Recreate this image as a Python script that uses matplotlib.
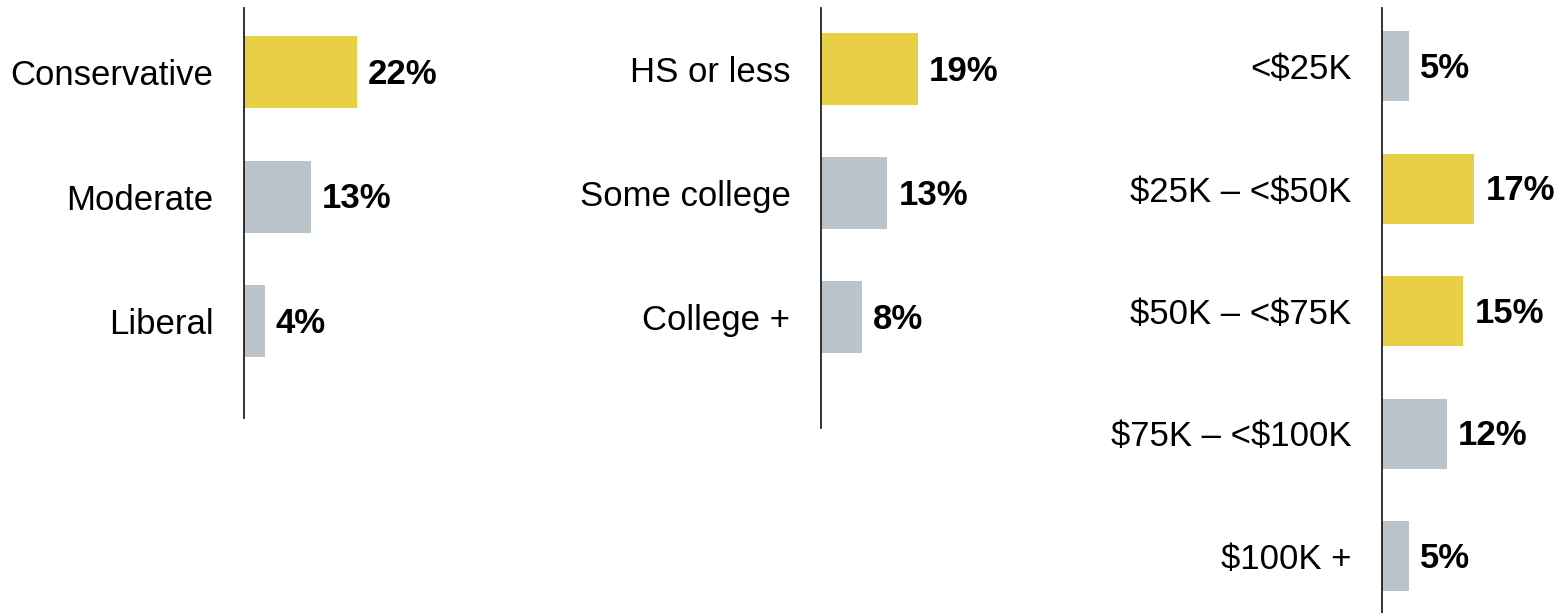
import matplotlib
matplotlib.use("Agg")
import matplotlib.pyplot as plt

plt.rcParams["font.family"] = ["Liberation Sans", "DejaVu Sans"]
plt.rcParams["text.parse_math"] = False

YELLOW = "#E8CF46"
GRAY = "#BAC4CA"

# ideology
ideo_labels = ["Conservative", "Moderate", "Liberal"]
ideo_values = [22, 13, 4]
ideo_hi = [True, False, False]

# education
edu_labels = ["HS or less", "Some college", "College +"]
edu_values = [19, 13, 8]
edu_hi = [True, False, False]

# income
inc_labels = ["<$25K", "$25K – <$50K", "$50K – <$75K", "$75K – <$100K", "$100K +"]
inc_values = [5, 17, 15, 12, 5]
inc_hi = [False, True, True, False, False]

W, H = 1566, 613
fig = plt.figure(figsize=(W / 100, H / 100), dpi=100)


def panel(x0, top, bottom, first_c, step, bar_px, px_per_pct, labels, values, hi):
    # axes placed in pixel units; y in category units, x in percent
    n = len(labels)
    xmax = 30
    ax = fig.add_axes([x0 / W, 1 - bottom / H, xmax * px_per_pct / W, (bottom - top) / H])
    y0 = -(first_c - top) / step
    y1 = (bottom - first_c) / step
    ax.set_ylim(y1, y0)
    ax.set_xlim(0, xmax)
    ypos = list(range(n))
    ax.barh(ypos, values, height=bar_px / step,
            color=[YELLOW if h else GRAY for h in hi], zorder=1)
    for s in ("top", "right", "bottom"):
        ax.spines[s].set_visible(False)
    ax.spines["left"].set_color("#222222")
    ax.spines["left"].set_linewidth(1.3)
    ax.spines["left"].set_zorder(3)
    ax.set_xticks([])
    ax.set_yticks(ypos)
    ax.set_yticklabels(labels, fontsize=25)
    ax.tick_params(axis="y", length=0, pad=22)
    for y, v in zip(ypos, values):
        ax.text(v + 11 / px_per_pct, y + 0.02, f"{v}%", ha="left", va="center",
                fontsize=25, fontweight="bold")
    return ax


panel(244, 8, 418, 72, 124.5, 72, 5.14, ideo_labels, ideo_values, ideo_hi)
panel(821, 8, 428, 69, 124, 72, 5.10, edu_labels, edu_values, edu_hi)
panel(1382, 8, 613, 66, 122.5, 70, 5.43, inc_labels, inc_values, inc_hi)

fig.savefig("out.png", dpi=100)
